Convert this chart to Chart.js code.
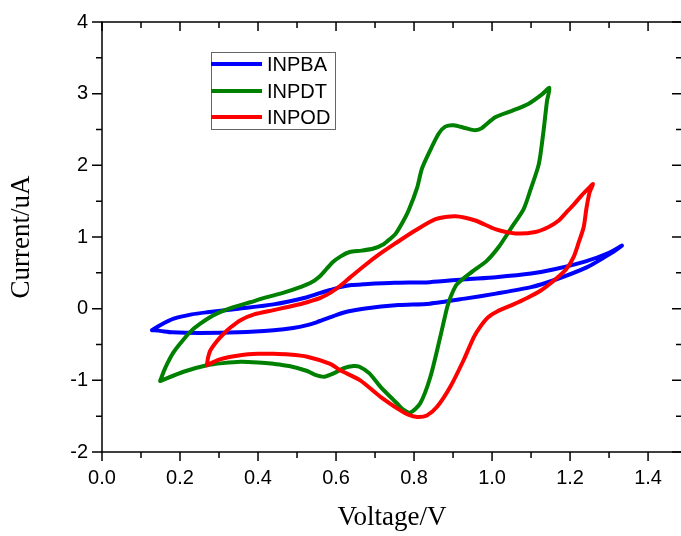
<!DOCTYPE html>
<html>
<head>
<meta charset="utf-8">
<script src="https://cdn.jsdelivr.net/npm/chart.js@4/dist/chart.umd.min.js"></script>
<style>
  html, body { margin: 0; padding: 0; overflow: hidden; background: #fff; }
  canvas { display: block; }
</style>
</head>
<body>
<canvas id="cv" width="684" height="536"></canvas>
<script>
// cyclic voltammograms (V vs uA)
var pbaV = [0.128, 0.149, 0.184, 0.23, 0.27, 0.35, 0.44, 0.526, 0.56, 0.585, 0.611, 0.64, 0.67, 0.75, 0.84, 0.93, 1.01, 1.10, 1.16, 1.24, 1.30, 1.333,
            1.295, 1.244, 1.16, 1.10, 1.01, 0.93, 0.84, 0.76, 0.67, 0.63, 0.60, 0.575, 0.55, 0.526, 0.49, 0.44, 0.35, 0.25, 0.18, 0.149, 0.128];
var pbaI = [-0.30, -0.23, -0.14, -0.08, -0.05, 0.0, 0.06, 0.16, 0.22, 0.26, 0.30, 0.33, 0.34, 0.36, 0.37, 0.41, 0.44, 0.49, 0.55, 0.66, 0.78, 0.88,
            0.74, 0.58, 0.40, 0.30, 0.21, 0.14, 0.07, 0.05, 0.0, -0.04, -0.09, -0.14, -0.19, -0.23, -0.27, -0.30, -0.33, -0.34, -0.33, -0.31, -0.30];

var pdtV = [0.149, 0.158, 0.167, 0.182, 0.2, 0.225, 0.252, 0.29, 0.337, 0.38, 0.423, 0.47, 0.508, 0.535, 0.558, 0.575, 0.592, 0.612, 0.635, 0.665, 0.696, 0.722, 0.74, 0.752, 0.77, 0.786, 0.808, 0.82, 0.837, 0.863, 0.88, 0.902, 0.931, 0.957, 0.974, 1.008, 1.051, 1.094, 1.128, 1.147,
            1.141, 1.132, 1.12, 1.098, 1.081, 1.051, 1.017, 0.985, 0.95, 0.91, 0.895, 0.885, 0.867, 0.842, 0.816, 0.79,
            0.77, 0.756, 0.714, 0.685, 0.66, 0.645, 0.62, 0.595, 0.57, 0.545, 0.526, 0.48, 0.44, 0.40, 0.355, 0.31, 0.269, 0.209, 0.149];
var pdtI = [-1.01, -0.88, -0.77, -0.62, -0.49, -0.33, -0.21, -0.08, 0.02, 0.09, 0.16, 0.23, 0.30, 0.36, 0.45, 0.55, 0.65, 0.73, 0.79, 0.81, 0.84, 0.90, 0.98, 1.04, 1.20, 1.37, 1.69, 1.95, 2.16, 2.44, 2.54, 2.56, 2.52, 2.49, 2.52, 2.67, 2.76, 2.86, 2.99, 3.08,
            2.90, 2.48, 2.02, 1.65, 1.39, 1.14, 0.86, 0.66, 0.52, 0.34, 0.18, 0.02, -0.40, -0.95, -1.32, -1.45,
            -1.40, -1.32, -1.09, -0.90, -0.81, -0.80, -0.83, -0.90, -0.95, -0.92, -0.87, -0.80, -0.77, -0.75, -0.74, -0.76, -0.79, -0.88, -1.01];

var podV = [0.269, 0.272, 0.278, 0.295, 0.312, 0.33, 0.355, 0.39, 0.44, 0.49, 0.526, 0.56, 0.585, 0.611, 0.637, 0.675, 0.714, 0.752, 0.803, 0.855, 0.906, 0.957, 1.008, 1.06, 1.111, 1.145, 1.171, 1.19, 1.209, 1.228, 1.244, 1.259,
            1.25, 1.242, 1.235, 1.222, 1.209, 1.19, 1.158, 1.124, 1.09, 1.055, 1.013, 0.99, 0.97, 0.953, 0.927, 0.893, 0.859, 0.833, 0.808, 0.785, 0.765, 0.714, 0.662, 0.611, 0.585, 0.526, 0.48, 0.44, 0.40, 0.355, 0.30, 0.269];
var podI = [-0.79, -0.68, -0.58, -0.45, -0.35, -0.26, -0.16, -0.08, -0.02, 0.04, 0.09, 0.15, 0.22, 0.32, 0.44, 0.61, 0.77, 0.91, 1.09, 1.25, 1.29, 1.23, 1.11, 1.05, 1.07, 1.14, 1.23, 1.34, 1.45, 1.57, 1.66, 1.74,
            1.62, 1.40, 1.14, 0.92, 0.72, 0.55, 0.39, 0.25, 0.15, 0.06, -0.04, -0.12, -0.25, -0.40, -0.72, -1.09, -1.37, -1.49, -1.51, -1.48, -1.42, -1.23, -1.00, -0.86, -0.77, -0.67, -0.64, -0.63, -0.63, -0.65, -0.71, -0.79];

var xTicks = [0.0, 0.2, 0.4, 0.6, 0.8, 1.0, 1.2, 1.4];
var yTicks = [-2, -1, 0, 1, 2, 3, 4];

function pts(v, i) {
  var out = [];
  for (var k = 0; k < v.length; k++) out.push({ x: v[k], y: i[k] });
  return out;
}

var SANS = "Arial, 'Liberation Sans', sans-serif";
var SERIF = "'Times New Roman', 'Liberation Serif', serif";

// box round the plot with the Origin-style ticks (outer on left/bottom, inner on top/right)
var frame = {
  id: "frame",
  afterDatasetsDraw: function (chart) {
    var ctx = chart.ctx, a = chart.chartArea;
    var x = chart.scales.x, y = chart.scales.y;
    ctx.save();
    ctx.strokeStyle = "#000";
    ctx.lineWidth = 1.5;
    ctx.strokeRect(a.left, a.top, a.right - a.left, a.bottom - a.top);
    ctx.beginPath();
    for (var k = 0; k <= 14; k++) {
      var px = x.getPixelForValue(k / 10);
      var len = k % 2 == 0 ? 9 : 6;
      ctx.moveTo(px, a.bottom); ctx.lineTo(px, a.bottom + len);
      ctx.moveTo(px, a.top); ctx.lineTo(px, a.top + len);
    }
    for (var k = -4; k <= 8; k++) {
      var py = y.getPixelForValue(k / 2);
      var len = k % 2 == 0 ? 10 : 6;
      ctx.moveTo(a.left, py); ctx.lineTo(a.left - len, py);
      ctx.moveTo(a.right, py); ctx.lineTo(a.right - len, py);
    }
    ctx.stroke();

    // legend
    var lx = 211, ly = 52, lw = 124, lh = 77;
    ctx.lineWidth = 1;
    ctx.strokeStyle = "#666";
    ctx.fillStyle = "#fff";
    ctx.fillRect(lx, ly, lw, lh);
    ctx.strokeRect(lx + 0.5, ly + 0.5, lw, lh);
    ctx.font = "20px " + SANS;
    ctx.textBaseline = "middle";
    var rows = [12, 39, 65];
    chart.data.datasets.forEach(function (ds, n) {
      ctx.strokeStyle = ds.borderColor;
      ctx.lineWidth = 4;
      ctx.beginPath();
      ctx.moveTo(lx, ly + rows[n]);
      ctx.lineTo(lx + 51, ly + rows[n]);
      ctx.stroke();
      ctx.fillStyle = "#000";
      ctx.fillText(ds.label, lx + 56, ly + rows[n] + 1);
    });
    ctx.restore();
  }
};

new Chart(document.getElementById("cv"), {
  type: "scatter",
  data: {
    datasets: [
      { label: "INPBA", data: pts(pbaV, pbaI), borderColor: "#0000FF", order: 3 },
      { label: "INPDT", data: pts(pdtV, pdtI), borderColor: "#008000", order: 2 },
      { label: "INPOD", data: pts(podV, podI), borderColor: "#FF0000", order: 1 }
    ]
  },
  options: {
    responsive: false,
    animation: false,
    devicePixelRatio: 1,
    layout: { padding: { top: 22, right: 2, left: 0, bottom: 0 } },
    plugins: { legend: { display: false }, tooltip: { enabled: false } },
    datasets: { scatter: { showLine: true, tension: 0.25, borderWidth: 4, pointRadius: 0, fill: false } },
    elements: { line: { borderCapStyle: "round", borderJoinStyle: "round" } },
    scales: {
      x: {
        type: "linear",
        min: 0,
        max: 1.487,
        afterFit: function (s) { s.height = 84; },
        afterBuildTicks: function (s) { s.ticks = xTicks.map(function (v) { return { value: v }; }); },
        grid: { display: false },
        border: { display: false },
        ticks: {
          padding: 6,
          color: "#000",
          font: { family: SANS, size: 20 },
          callback: function (v) { return v.toFixed(1); }
        },
        title: { display: true, text: "Voltage/V", color: "#000", font: { family: SERIF, size: 27 }, padding: { top: 0, bottom: 2 } }
      },
      y: {
        type: "linear",
        min: -2,
        max: 4,
        afterFit: function (s) { s.width = 102; },
        afterBuildTicks: function (s) { s.ticks = yTicks.map(function (v) { return { value: v }; }); },
        grid: { display: false },
        border: { display: false },
        ticks: {
          padding: 6,
          color: "#000",
          font: { family: SANS, size: 20 },
          callback: function (v) { return String(v); }
        },
        title: { display: true, text: "Current/uA", color: "#000", font: { family: SERIF, size: 27 }, padding: { top: 6, bottom: 0 } }
      }
    }
  },
  plugins: [frame]
});
</script>
</body>
</html>
